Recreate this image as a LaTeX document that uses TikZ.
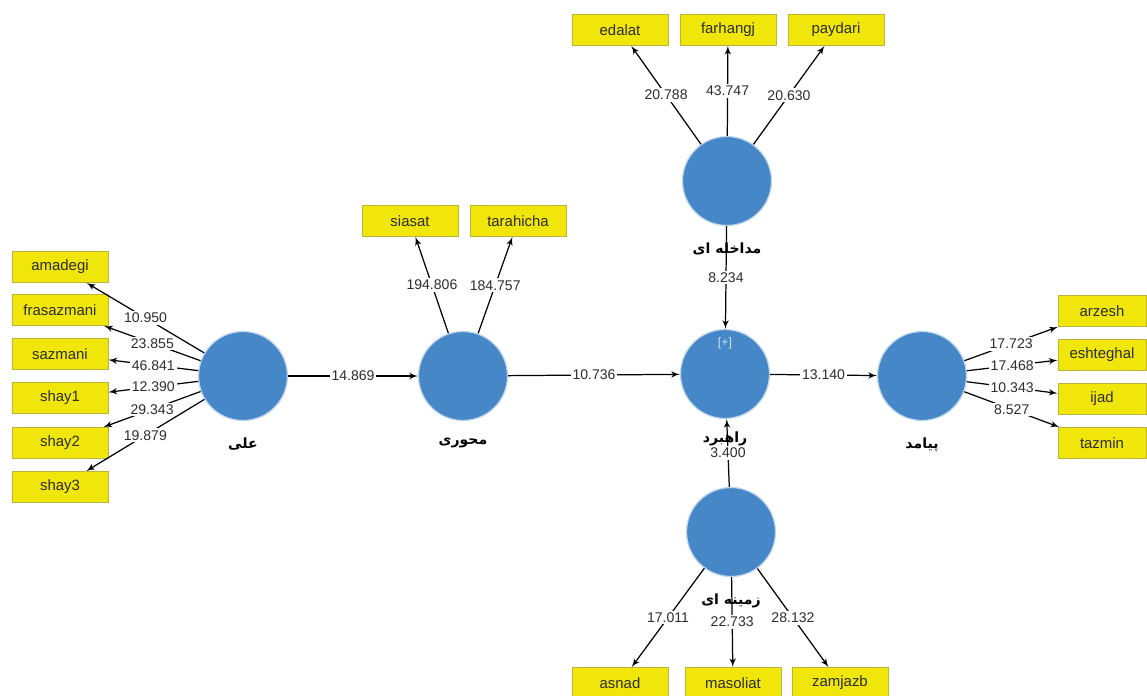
\documentclass[tikz,border=0pt]{standalone}
\usepackage{fontspec}
\setmainfont{Liberation Sans}
\newfontfamily\arabicfont[Script=Arabic]{DejaVu Sans}
\TeXXeTstate=1
\usetikzlibrary{arrows}
\definecolor{lvblue}{RGB}{70,135,200}
\definecolor{mvyellow}{RGB}{240,230,10}
\definecolor{mvframe}{RGB}{190,180,60}
\definecolor{numgray}{RGB}{45,45,45}
\newcommand{\fa}{\arabicfont\bfseries\fontsize{8}{9}\selectfont}

\begin{document}
\begin{tikzpicture}[x=0.02cm,y=-0.02cm,>=latex',line width=0.7pt,
                    latent/.style={circle,fill=lvblue,draw=lvblue!35,minimum size=1.78cm,
                                   inner sep=0pt},
                    latentname/.style={font=\fa,yshift=-6pt},
                    manifest/.style={rectangle,fill=mvyellow,draw=mvframe,line width=0.5pt,
                                     minimum width=1.92cm,minimum height=0.62cm,inner sep=1pt,
                                     text=numgray,font=\fontsize{8.5}{10}\selectfont}]
  \useasboundingbox (0,0) rectangle (1147,696);
  % latent variables
  \node[latent,label={[latentname]below:\beginR علی\endR}] (ali) at (243,376) {};
  \node[latent,label={[latentname]below:\beginR محوری\endR}] (mehvari) at (463,376) {};
  \node[latent,label={[latentname,yshift=2.5pt]below:\beginR راهبرد\endR}] (rahbord) at (725,374) {};
  \node[latent,label={[latentname]below:\beginR پیامد\endR}] (payamad) at (922,376) {};
  \node[latent,label={[latentname]below:\beginR مداخله ای\endR}] (modakhele) at (727,181) {};
  \node[latent,label={[latentname]below:\beginR زمینه ای\endR}] (zamine) at (731,532) {};
  \node[text=white!75!lvblue,font=\fontsize{7}{8}\selectfont] (plus) at (725,343) {[+]};
  % indicators
  \node[manifest] (amadegi) at (60,267) {amadegi};
  \node[manifest] (frasazmani) at (60,310) {frasazmani};
  \node[manifest] (sazmani) at (60,354) {sazmani};
  \node[manifest] (shay1) at (60,398) {shay1};
  \node[manifest] (shay2) at (60,443) {shay2};
  \node[manifest] (shay3) at (60,487) {shay3};
  \node[manifest] (siasat) at (410,221) {siasat};
  \node[manifest] (tarahicha) at (518,221) {tarahicha};
  \node[manifest] (edalat) at (620,30) {edalat};
  \node[manifest] (farhangj) at (728,30) {farhangj};
  \node[manifest] (paydari) at (836,30) {paydari};
  \node[manifest,minimum width=1.76cm] (arzesh) at (1102,311) {arzesh};
  \node[manifest,minimum width=1.76cm] (eshteghal) at (1102,355) {eshteghal};
  \node[manifest,minimum width=1.76cm] (ijad) at (1102,399) {ijad};
  \node[manifest,minimum width=1.76cm] (tazmin) at (1102,443) {tazmin};
  \node[manifest] (asnad) at (620,683) {asnad};
  \node[manifest] (masoliat) at (733,683) {masoliat};
  \node[manifest] (zamjazb) at (840,683) {zamjazb};

  \path[->,every node/.style={fill=white,inner sep=1pt,text=numgray,
                              font=\fontsize{8}{9}\selectfont}]
    (ali) edge node {10.950} (amadegi)
          edge node {23.855} (frasazmani)
          edge node {46.841} (sazmani)
          edge node {12.390} (shay1)
          edge node {29.343} (shay2)
          edge node {19.879} (shay3)
          edge node {14.869} (mehvari)
    (mehvari) edge node {194.806} (siasat)
              edge node {184.757} (tarahicha)
              edge node {10.736} (rahbord)
    (modakhele) edge node {20.788} (edalat)
                edge node {43.747} (farhangj)
                edge node {20.630} (paydari)
                edge node {8.234} (rahbord)
    (zamine) edge node {17.011} (asnad)
             edge node {22.733} (masoliat)
             edge node {28.132} (zamjazb)
             edge node {3.400} (rahbord)
    (rahbord) edge node {13.140} (payamad)
    (payamad) edge node {17.723} (arzesh)
              edge node {17.468} (eshteghal)
              edge node {10.343} (ijad)
              edge node {8.527} (tazmin);
\end{tikzpicture}
\end{document}
